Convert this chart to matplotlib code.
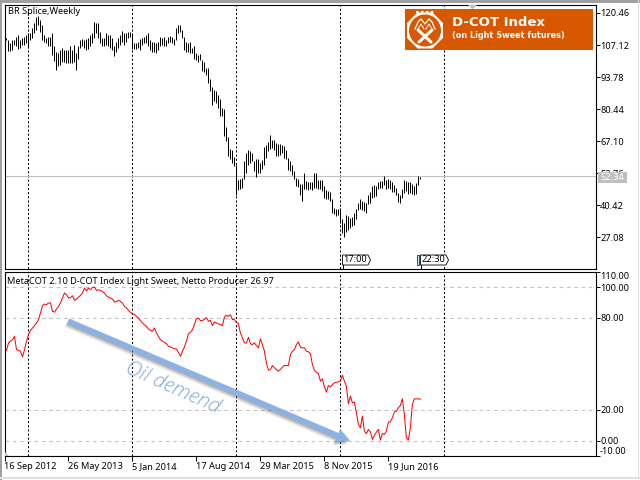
import matplotlib
matplotlib.use('Agg')
import matplotlib.pyplot as plt
import matplotlib.patheffects as pe
from matplotlib.patches import Polygon, Rectangle, RegularPolygon, Circle, FancyArrowPatch

plt.rcParams['font.family'] = ['Noto Sans', 'DejaVu Sans']

# weekly bars, one high and one low per week
highs = [109.9, 109.0, 108.1, 109.2, 109.2, 110.6, 111.3, 109.2, 109.9, 110.6, 111.3, 112.0, 112.0, 114.1, 116.2, 118.9,
         119.2, 117.5, 115.5, 111.3, 109.9, 110.3, 110.6, 112.0, 106.5, 104.4, 103.7, 105.1, 105.8, 105.1, 105.1, 105.1,
         106.5, 105.1, 107.2, 103.7, 106.5, 109.2, 109.5, 109.2, 109.5, 109.9, 111.3, 112.0, 116.6, 116.2, 116.2, 112.7,
         109.9, 109.9, 112.0, 111.3, 111.3, 109.9, 106.5, 108.5, 109.9, 111.3, 113.1, 112.0, 112.0, 112.7, 112.7, 112.0,
         107.9, 107.9, 108.5, 109.5, 109.9, 110.3, 111.3, 112.0, 109.0, 108.5, 108.5, 107.9, 108.5, 110.3, 109.9, 110.3,
         109.0, 110.6, 110.9, 110.6, 109.5, 114.1, 115.5, 115.5, 113.4, 110.6, 108.5, 108.1, 108.5, 105.8, 106.5, 103.7,
         103.0, 103.4, 100.9, 100.2, 97.5, 97.5, 93.0, 89.6, 88.2, 87.8, 86.4, 84.6, 80.8, 80.4, 72.9, 68.8,
         63.9, 63.2, 60.5, 56.9, 50.8, 51.1, 51.8, 58.7, 61.9, 63.2, 63.1, 61.9, 58.7, 59.6, 59.6, 58.0,
         59.1, 64.6, 65.6, 66.6, 69.8, 67.7, 67.7, 66.3, 65.9, 65.9, 65.6, 65.2, 63.5, 60.1, 58.7, 56.9,
         54.5, 51.8, 51.1, 49.0, 49.0, 53.8, 50.4, 49.9, 49.9, 49.9, 53.8, 53.6, 50.8, 50.8, 50.8, 48.3,
         46.5, 46.2, 45.8, 43.0, 39.3, 38.6, 38.6, 39.3, 34.4, 33.1, 36.2, 35.8, 35.1, 35.6, 36.9, 38.6,
         41.4, 42.8, 42.1, 41.6, 41.4, 44.8, 45.9, 48.3, 48.6, 48.3, 49.9, 50.4, 50.4, 52.4, 50.8, 51.1,
         50.8, 49.9, 48.6, 47.6, 45.5, 44.8, 47.2, 50.8, 50.4, 49.9, 49.9, 49.0, 48.3, 49.7, 52.4, 52.2]
lows = [109.2, 104.8, 104.7, 105.1, 107.2, 106.5, 105.4, 105.8, 107.2, 107.2, 107.9, 105.8, 109.2, 109.9, 112.0, 113.4,
        115.5, 112.7, 109.2, 108.5, 107.9, 106.5, 106.5, 103.0, 100.5, 96.8, 98.2, 98.9, 100.2, 100.2, 99.5, 99.8,
        99.5, 99.5, 100.2, 96.8, 101.2, 105.8, 106.5, 105.8, 105.1, 105.4, 106.5, 107.9, 109.9, 112.0, 109.9, 107.9,
        106.5, 106.5, 107.2, 106.5, 105.8, 105.1, 102.6, 104.4, 105.8, 107.2, 108.5, 107.2, 108.5, 109.9, 110.6, 105.4,
        105.5, 105.5, 105.8, 105.1, 107.2, 107.9, 107.9, 106.5, 105.1, 104.4, 104.4, 103.7, 105.1, 106.5, 107.2, 106.8,
        106.5, 107.9, 108.5, 108.1, 107.2, 109.2, 112.0, 112.7, 109.9, 105.1, 104.0, 104.4, 103.7, 103.7, 101.2, 100.9,
        100.2, 100.9, 96.1, 95.7, 94.7, 91.2, 87.8, 82.2, 83.6, 82.9, 80.8, 77.4, 77.4, 69.1, 67.0, 60.8,
        59.4, 58.0, 56.6, 44.8, 46.6, 47.2, 47.6, 51.3, 53.8, 57.3, 58.0, 58.7, 54.5, 52.2, 53.6, 53.8,
        55.5, 57.3, 60.1, 62.8, 63.8, 64.2, 63.5, 60.8, 61.0, 61.4, 61.9, 60.1, 59.6, 54.9, 54.5, 53.1,
        51.3, 48.3, 48.0, 44.8, 42.1, 47.2, 46.9, 46.6, 46.9, 46.6, 47.6, 47.6, 46.9, 47.2, 46.2, 43.5,
        42.8, 43.0, 42.1, 36.9, 36.5, 35.8, 36.1, 33.1, 28.9, 27.2, 29.3, 30.0, 31.0, 31.7, 32.0, 34.4,
        38.3, 38.6, 38.3, 37.9, 37.2, 40.7, 41.1, 43.5, 43.9, 44.1, 47.2, 47.6, 47.6, 48.6, 46.9, 47.6,
        46.9, 45.8, 45.8, 44.8, 41.6, 41.1, 43.5, 45.5, 46.2, 45.1, 45.5, 45.2, 44.8, 45.2, 48.6, 51.3]

# D-COT index, one value per week
index_values = [58.8, 63.6, 64.7, 65.7, 67.9, 59.2, 58.8, 58.2, 54.5, 59.2, 64.7, 69.0, 71.8, 73.3, 74.8, 76.6,
                78.7, 83.1, 88.0, 88.9, 88.5, 89.6, 89.6, 84.1, 83.7, 85.7, 87.4, 89.6, 92.8, 96.1, 95.0, 92.8,
                93.2, 94.3, 91.3, 92.2, 93.4, 94.5, 96.1, 99.3, 97.6, 99.3, 98.2, 99.7, 99.9, 97.8, 98.2, 97.8,
                97.1, 96.1, 94.3, 93.4, 92.8, 92.2, 90.2, 90.6, 91.3, 90.6, 89.6, 87.4, 86.3, 84.8, 83.5, 82.6,
                82.2, 80.9, 79.8, 78.1, 76.6, 75.3, 74.4, 72.7, 71.8, 71.2, 73.3, 70.1, 67.9, 65.7, 64.7, 64.0,
                63.1, 61.4, 61.0, 60.3, 59.9, 59.7, 57.5, 54.9, 58.2, 61.0, 64.7, 69.6, 70.5, 72.2, 75.5, 79.2,
                79.8, 78.1, 78.3, 78.8, 80.1, 77.7, 78.3, 74.9, 77.2, 76.6, 76.0, 75.5, 74.9, 80.5, 81.6, 80.9,
                82.0, 78.8, 78.8, 77.0, 76.2, 70.1, 66.9, 63.6, 63.6, 67.3, 63.0, 62.5, 63.6, 61.9, 60.4, 66.2,
                62.5, 58.2, 50.6, 45.9, 46.3, 48.9, 47.4, 46.3, 45.2, 46.3, 47.8, 48.9, 48.9, 48.9, 56.0, 58.2,
                59.3, 62.5, 64.3, 60.8, 60.4, 60.4, 58.2, 57.8, 56.7, 49.5, 45.9, 44.5, 43.7, 38.7, 40.2, 35.0,
                31.6, 35.9, 35.0, 36.5, 37.6, 38.0, 38.3, 38.7, 42.6, 38.7, 35.5, 24.0, 29.0, 24.6, 25.1, 18.1,
                10.6, 8.4, 16.0, 6.2, 4.5, 7.3, 5.8, 0.8, 3.4, 5.6, 7.3, 0.4, 4.7, 4.1, 6.2, 12.1,
                12.1, 14.9, 18.6, 19.2, 21.4, 22.9, 27.2, 17.1, 1.9, 0.4, 8.4, 23.6, 27.2, 27.2, 27.2, 26.97]

last_price = 52.34
price_ticks = [120.46, 107.12, 93.78, 80.44, 67.10, 53.76, 40.42, 27.08]
index_ticks = [110, 100, 80, 20, 0, -10]
index_grid = [100, 80, 20, 0]
date_pos = [-1, 31, 63, 95, 127, 159, 191]
date_labels = ['16 Sep 2012', '26 May 2013', '5 Jan 2014', '17 Aug 2014', '29 Mar 2015', '8 Nov 2015', '19 Jun 2016']
separators = [11, 63, 115, 167, 219]

W, H = 640, 480
fs = 6.6
dash = (0, (2, 2))


def axes_box(left, top, right, bottom):
    return [left / W, 1 - bottom / H, (right - left) / W, (bottom - top) / H]


fig = plt.figure(figsize=(6.4, 4.8), dpi=100, facecolor='white')
ax1 = fig.add_axes(axes_box(4.5, 4.5, 595.5, 269))
ax2 = fig.add_axes(axes_box(4.5, 271.5, 595.5, 456))

weeks = list(range(len(highs)))

ax1.vlines(separators, 0, 200, color='black', lw=0.75, linestyles=dash, zorder=1)
ax1.axhline(last_price, color='#c0c0c0', lw=0.75, zorder=1)
ax1.vlines(weeks, lows, highs, color='black', lw=0.72, zorder=2)
ax1.set_xlim(-0.9, 294.6)
ax1.set_ylim(13.76, 124.0)
ax1.set_xticks([])
ax1.yaxis.tick_right()
ax1.set_yticks(price_ticks)
ax1.set_yticklabels(['%.2f' % p for p in price_ticks], fontsize=fs)
ax1.tick_params(axis='y', length=3, width=0.7, pad=0.3)

for y in index_grid:
    ax2.axhline(y, color='#c0c0c0', lw=0.75, linestyle=(0, (3.5, 3.5)), zorder=1)
ax2.vlines(separators, -50, 200, color='black', lw=0.75, linestyles=dash, zorder=1)
ax2.plot(weeks, index_values, color='#ff0000', lw=0.72, zorder=2)
ax2.set_xlim(-0.9, 294.6)
ax2.set_ylim(-9.6, 110.1)
ax2.yaxis.tick_right()
ax2.set_yticks(index_ticks)
ax2.set_yticklabels(['%.2f' % v for v in index_ticks], fontsize=fs)
ax2.get_yticklabels()[0].set_va('top')
ax2.get_yticklabels()[4].set_fontweight('bold')
ax2.get_yticklabels()[-1].set_va('bottom')
ax2.tick_params(axis='y', length=3, width=0.7, pad=0.3)
ax2.set_xticks(date_pos)
ax2.set_xticklabels(date_labels, fontsize=fs, ha='left')
ax2.tick_params(axis='x', length=3.5, width=0.7, pad=1)

for ax in (ax1, ax2):
    for spine in ax.spines.values():
        spine.set_linewidth(0.8)

# overlay in picture pixels for the window furniture, logo and drawn arrow
ov = fig.add_axes([0, 0, 1, 1], zorder=5)
ov.set_xlim(0, W)
ov.set_ylim(H, 0)
ov.axis('off')

ov.add_patch(Rectangle((0, 0), W, 2.5, color='#a0a0a0', lw=0))
ov.add_patch(Rectangle((0, 0), 2, H, color='#a0a0a0', lw=0))
ov.add_patch(Rectangle((0, 477), W, 1.5, color='#e0e0e0', lw=0))
ov.add_patch(Rectangle((637.5, 0), 1.5, 478, color='#e0e0e0', lw=0))

ov.text(8, 12, 'BR Splice,Weekly', fontsize=fs, va='center', ha='left', color='black')
ov.text(7, 281, 'MetaCOT 2.10 D-COT Index Light Sweet, Netto Producer 26.97', fontsize=fs, va='center', ha='left', color='black')

# last price tag over the axis labels
ov.add_patch(Rectangle((598, 172), 29, 11, color='#c0c0c0', lw=0))
ov.text(612.5, 177.5, '52.34', fontsize=fs, color='white', va='center', ha='center')

# session time tags
ov.add_patch(Polygon([(342.5, 255), (368, 255), (370.5, 260), (368, 265), (342.5, 265)], fc='white', ec='black', lw=0.6))
ov.plot([342.5, 342.5], [265, 269], color='black', lw=0.7)
ov.text(355, 260, '17:00', fontsize=fs, va='center', ha='center', color='black')
ov.add_patch(Rectangle((416.5, 254.5), 2.5, 10.5, fc='#c8f0f8', ec='black', lw=0.5))
ov.add_patch(Polygon([(420.5, 255), (446, 255), (448.5, 260), (446, 265), (420.5, 265)], fc='white', ec='black', lw=0.6))
ov.plot([420.5, 420.5], [265, 269], color='black', lw=0.7)
ov.text(433, 260, '22:30', fontsize=fs, va='center', ha='center', color='black')

# small chart markers
ov.add_patch(Polygon([(468, 5), (477, 5), (472.5, 9.5)], color='#c0c0c0', lw=0))
ov.add_patch(Polygon([(5, 451.5), (5, 455.5), (9, 455.5)], color='#c0c0c0', lw=0))

# logo banner
orange = '#d75800'
ov.add_patch(Rectangle((405, 9), 188, 41, color=orange, lw=0))
ov.add_patch(RegularPolygon((425, 30.5), 8, radius=19.5, orientation=0.39, color='white', lw=0))
ov.add_patch(Circle((425, 30.5), 16, color=orange, lw=0))
ov.plot([419, 432], [42, 30], color='white', lw=2.2, solid_capstyle='round')
ov.plot([418, 431], [30, 42], color='white', lw=2.2, solid_capstyle='round')
ov.plot([415, 418, 421, 425, 429, 432, 435], [29, 22, 19, 24, 19, 22, 29], color='white', lw=0.9)
ov.plot([418, 421, 424], [29, 24, 29], color='white', lw=0.7)
ov.plot([426, 429, 432], [29, 24, 29], color='white', lw=0.7)
ov.plot([416, 434], [12, 12], color='white', lw=1.6, linestyle=(0, (1.2, 1)))
ov.text(452, 22.5, 'D-COT Index', fontsize=9.5, fontweight='bold', color='white', va='center', ha='left', family='DejaVu Sans')
ov.text(452, 35.5, '(on Light Sweet futures)', fontsize=5.9, fontweight='bold', color='white', va='center', ha='left', family='DejaVu Sans')

# hand drawn trend arrow
shadow = [pe.SimplePatchShadow(offset=(-0.7, -1.2), shadow_rgbFace='#606060', alpha=0.3),
          pe.SimplePatchShadow(offset=(-1.4, -2.2), shadow_rgbFace='#606060', alpha=0.25),
          pe.SimplePatchShadow(offset=(-2.1, -3.2), shadow_rgbFace='#808080', alpha=0.12),
          pe.Normal()]
arrow = FancyArrowPatch((66, 320), (352, 441.5), arrowstyle='simple,head_length=9,head_width=9,tail_width=3.2',
                        mutation_scale=1, fc='#8ab2e4', ec='#8ab2e4', lw=0.5, path_effects=shadow)
ov.add_patch(arrow)
ov.text(172, 388.5, 'Oil demend', fontsize=15, style='italic', fontweight='light', color='#7fa8dc', rotation=-24,
        rotation_mode='anchor', va='center', ha='center', family='Open Sans')

fig.savefig('out.png', dpi=100)
